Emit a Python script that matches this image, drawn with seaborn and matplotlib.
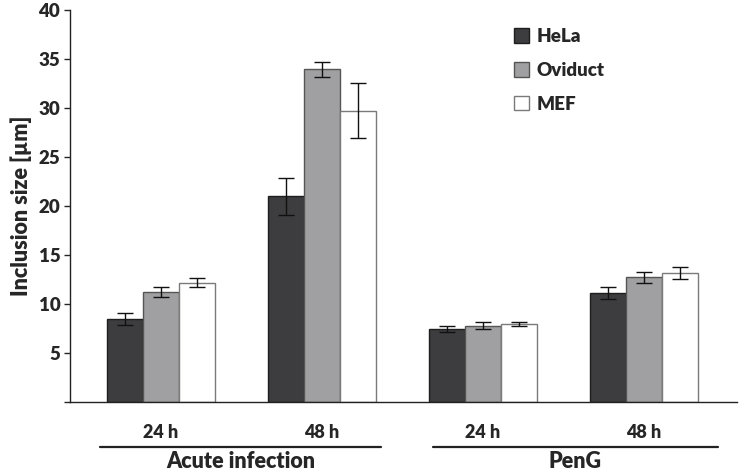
import numpy as np
import pandas as pd
import matplotlib
matplotlib.use("Agg")
import matplotlib.pyplot as plt
import matplotlib.transforms as mtransforms
from matplotlib.patches import Patch
import seaborn as sns

# -----------------------------------------------------------------------------
# data

conditions = ["Acute 24 h", "Acute 48 h", "PenG 24 h", "PenG 48 h"]
tick_labels = ["24 h", "48 h", "24 h", "48 h"]
groups = ["Acute infection", "PenG"]
cells = ["HeLa", "Oviduct", "MEF"]

hela = [8.45, 21.0, 7.4, 11.1]
oviduct = [11.25, 33.95, 7.8, 12.7]
mef = [12.15, 29.7, 7.95, 13.15]

hela_err = [0.6, 1.9, 0.3, 0.6]
oviduct_err = [0.5, 0.75, 0.38, 0.6]
mef_err = [0.45, 2.8, 0.17, 0.58]

# -----------------------------------------------------------------------------
# long table for seaborn

rows = []
for name, vals, errs in zip(cells, [hela, oviduct, mef], [hela_err, oviduct_err, mef_err]):
    for c, v, e in zip(conditions, vals, errs):
        rows.append({"condition": c, "cell": name, "size": v, "err": e})
df = pd.DataFrame(rows)

colors = {"HeLa": "#3d3d3f", "Oviduct": "#a0a0a2", "MEF": "#ffffff"}
edges = {"HeLa": "#1e1e1e", "Oviduct": "#555555", "MEF": "#7a7a7a"}

sns.set_style("white")
plt.rcParams["font.family"] = ["Lato", "DejaVu Sans"]
plt.rcParams["font.weight"] = "heavy"
W = "heavy"

fig, ax = plt.subplots(figsize=(7.4, 4.74), dpi=100)
fig.subplots_adjust(left=0.0946, right=0.996, bottom=0.152, top=0.979)

sns.barplot(data=df, x="condition", y="size", hue="cell", order=conditions,
            hue_order=cells, palette=colors, width=0.67, errorbar=None,
            linewidth=1.0, saturation=1, legend=False, ax=ax)

# edge colours + error bars, bar by bar (seaborn draws hue by hue)
for i, name in enumerate(cells):
    sub = df[df["cell"] == name].set_index("condition").loc[conditions]
    bars = ax.patches[i * len(conditions):(i + 1) * len(conditions)]
    for bar, (_, r) in zip(bars, sub.iterrows()):
        bar.set_edgecolor(edges[name])
        xc = bar.get_x() + bar.get_width() / 2
        ax.errorbar(xc, r["size"], yerr=r["err"], fmt="none", ecolor="#111111",
                    elinewidth=1.0, capsize=6, capthick=1.0, zorder=5)

# -----------------------------------------------------------------------------
# axes styling

ax.set_ylim(0, 40)
ax.set_xlim(-0.565, 3.58)
ax.set_yticks(np.arange(0, 41, 5))
ax.set_yticklabels([""] + [str(v) for v in range(5, 41, 5)], fontweight=W)
ax.set_xticks(range(len(conditions)))
ax.set_xticklabels(tick_labels, fontweight=W)
ax.tick_params(axis="y", left=True, length=4, width=1, labelsize=13.5, pad=3)
ax.tick_params(axis="x", bottom=False, length=0, labelsize=13, pad=16)
ax.set_xlabel("")
ax.set_ylabel("Inclusion size [µm]", fontsize=15.5, fontweight=W, labelpad=5)
for s in ["top", "right"]:
    ax.spines[s].set_visible(False)
for s in ["left", "bottom"]:
    ax.spines[s].set_color("#222222")
    ax.spines[s].set_linewidth(1.0)

# group brackets under the tick labels
trans = mtransforms.blended_transform_factory(ax.transData, ax.transAxes)
spans = [(-0.38, 1.37), (1.69, 3.46)]
for g, (x0, x1) in zip(groups, spans):
    ax.plot([x0, x1], [-0.115, -0.115], color="#222222", lw=1.6,
            transform=trans, clip_on=False)
    ax.text((x0 + x1) / 2, -0.126, g, transform=trans, ha="center", va="top",
            fontsize=15.5, fontweight=W)

# legend
handles = [Patch(facecolor=colors[n], edgecolor=edges[n], label=n) for n in cells]
ax.legend(handles=handles, loc="upper left", bbox_to_anchor=(0.640, 0.997),
          frameon=False, prop={"size": 13.5, "weight": W},
          handlelength=0.8, handleheight=0.8,
          handletextpad=0.4, labelspacing=0.9)

plt.savefig("out.png", dpi=100)
